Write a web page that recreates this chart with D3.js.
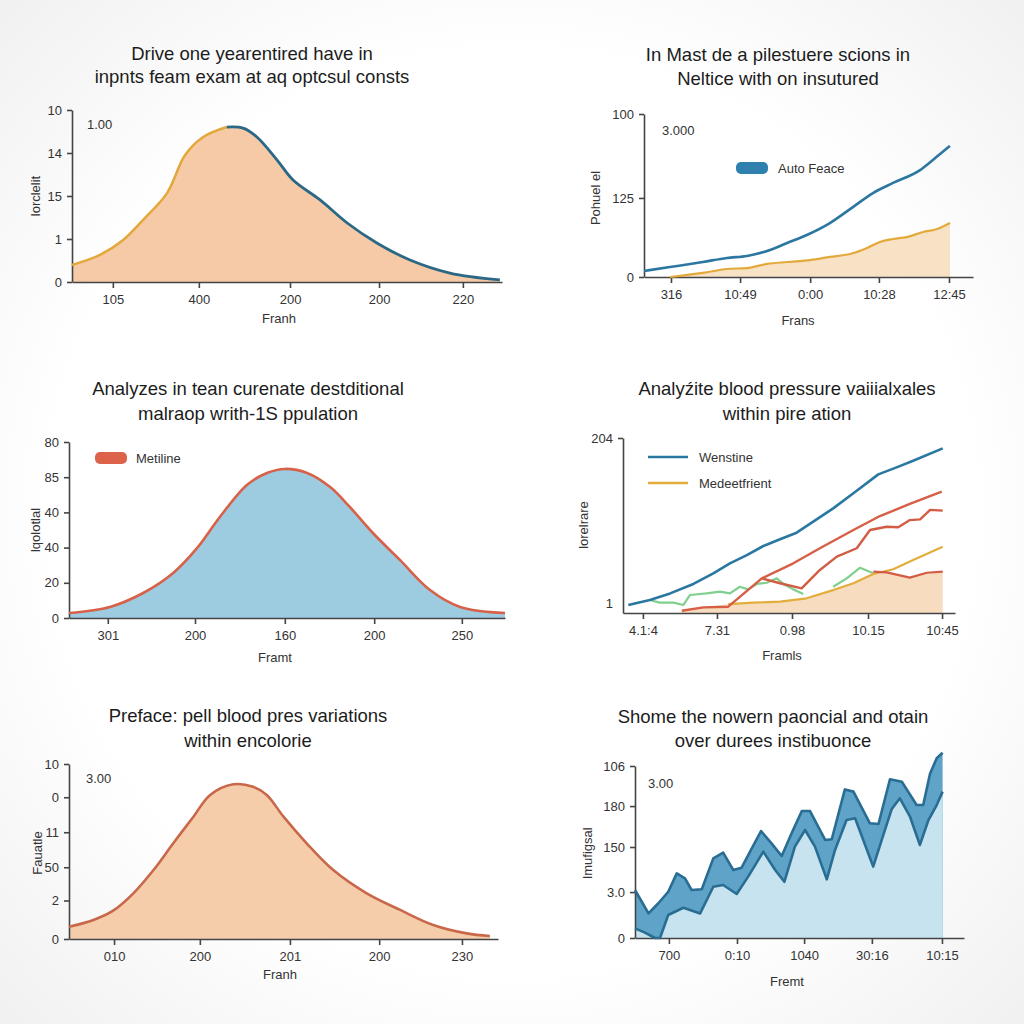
<!DOCTYPE html>
<html><head><meta charset="utf-8">
<script src="https://cdn.jsdelivr.net/npm/d3@7"></script>
<style>body{margin:0;background:#fff} svg{display:block;font-family:"Liberation Sans",Arial,sans-serif}</style>
</head><body><svg id="c" width="1024" height="1024"></svg>
<script>
// ---------- DATA ----------
// Panel 1
const p1Title = ["Drive one yearentired have in", "inpnts feam exam at aq optcsul consts"];
const p1XTicks = [9.5, 29.5, 50.7, 71.4, 90.9];
const p1XLabels = ["105", "400", "200", "200", "220"];
const p1YTicks = [0, 25, 50, 75, 100];
const p1YLabels = ["0", "1", "15", "14", "10"];
const p1X = [0, 6.5, 11.9, 16.5, 22.1, 26.3, 30.5, 36, 39.8, 43, 47.7, 51.4, 57.7, 64, 70.9, 78.6, 87.9, 99.5];
const p1Y = [9.9, 15.7, 24.4, 36, 51.7, 73.8, 84.3, 90.1, 89.5, 84.3, 70.9, 59.3, 47.7, 34.3, 22.7, 12.8, 5.2, 1.2];
const p1Split = 7;

// Panel 2
const p2Title = ["In Mast de a pilestuere scions in", "Neltice with on insutured"];
const p2XTicks = [8.2, 29.2, 50.5, 71.4, 92.7];
const p2XLabels = ["316", "10:49", "0:00", "10:28", "12:45"];
const p2YTicks = [0, 48.5, 100];
const p2YLabels = ["0", "125", "100"];
const p2BlueX = [0, 7.9, 17.9, 25.2, 31.3, 38.3, 43.5, 49.5, 56.5, 63.5, 69.6, 75.7, 83.9, 87.8, 93];
const p2BlueY = [3.7, 6.1, 9.2, 11.7, 12.9, 16.6, 20.9, 25.8, 33.1, 42.9, 51.5, 57.7, 65.6, 71.8, 80.4];
const p2GoldX = [7.9, 17.9, 25.2, 31.3, 37.4, 43.5, 50.5, 56.5, 62.6, 67.8, 71.7, 75.7, 79.9, 84.8, 89.1, 93];
const p2GoldY = [0, 2.5, 4.9, 5.5, 8, 9.2, 10.4, 12.3, 14.1, 17.8, 21.5, 23.3, 24.5, 27.6, 29.4, 33.1];

// Panel 3
const p3Title = ["Analyzes in tean curenate destditional", "malraop writh-1S ppulation"];
const p3XTicks = [8.9, 28.9, 49.5, 70, 90.1];
const p3XLabels = ["301", "200", "160", "200", "250"];
const p3YTicks = [0, 20, 40, 60, 80, 100];
const p3YLabels = ["0", "20", "40", "40", "85", "80"];
const p3X = [0, 9.4, 17, 23.9, 29.4, 34.6, 40.8, 45.4, 49.5, 54.6, 59.9, 64.4, 69.7, 75.9, 82.8, 89.7, 100];
const p3Y = [2.8, 6.3, 14.2, 25.6, 39.8, 57.4, 75.6, 82.4, 84.7, 82.4, 74.4, 63.1, 48.3, 33, 15.9, 6.3, 2.8];

// Panel 4
const p4Title = ["Analyźite blood pressure vaiiialxales", "within pire ation"];
const p4XTicks = [6, 28.3, 50.9, 73.8, 96.1];
const p4XLabels = ["4.1:4", "7.31", "0.98", "10.15", "10:45"];
const p4YTicks = [5.7, 100];
const p4YLabels = ["1", "204"];
const p4BlueX = [1.6, 8.1, 14.2, 21.2, 27.2, 32.2, 37.3, 42.3, 47.3, 52.3, 57.3, 63.3, 69.4, 76.9, 82.4, 87.4, 96.3];
const p4BlueY = [4.6, 7.4, 11.2, 16.6, 22.7, 28.4, 33.1, 38.3, 42.1, 45.9, 52.2, 59.8, 68.4, 79.2, 83.2, 87, 94.1];
const p4RedAX = [17.7, 24.2, 31.7, 41.8, 51.3, 59.3, 69.4, 77.4, 86.4, 96];
const p4RedAY = [1.3, 3.2, 3.6, 19.8, 28.4, 37, 47.4, 55.4, 62.3, 69.3];
const p4RedBX = [41.8, 47.3, 53.8, 59.3, 64.4, 70.4, 74.4, 79.4, 82.9, 86.4, 89.5, 92.5, 96.3];
const p4RedBY = [19.8, 17, 14.1, 24.6, 32.2, 37, 47.4, 49.3, 49, 53.1, 53.5, 58.9, 58.5];
const p4RedCX = [75.4, 79.4, 86.4, 91.5, 96.3];
const p4RedCY = [23.6, 23.2, 20.2, 23, 23.6];
const p4GreenX = [8.1, 11.1, 15.2, 18.2, 20.2, 25.2, 29.2, 32.2, 35.2, 37.7, 40.3, 43.3, 46.3, 48.3, 51.3, 54.3, null, 63.3, 67.4, 71.4, 75.4];
const p4GreenY = [7.4, 5.9, 5.9, 4.6, 10.3, 11.2, 12.2, 11.2, 15, 13.5, 16.6, 17.3, 19.8, 16.6, 13.5, 10.9, null, 15, 19.8, 25.9, 22.7];
const p4GoldX = [31.7, 39.2, 47.3, 55.3, 63.3, 69.4, 75.4, 81.4, 87.4, 96.3];
const p4GoldY = [5.1, 5.9, 6.5, 8.4, 13.1, 17, 22.3, 25, 30.3, 37.9];
const p4FillX = [17.7, 24.2, 31.7, 39.2, 47.3, 55.3, 63.3, 69.4, 75.4, 79.4, 86.4, 91.5, 96.3];
const p4FillY = [1.3, 3.2, 5.1, 5.9, 6.5, 8.4, 13.1, 17, 22.3, 23.2, 20.2, 23, 23.6];
const p4Legend = ["Wenstine", "Medeetfrient"];

// Panel 5
const p5Title = ["Preface: pell blood pres variations", "within encolorie"];
const p5XTicks = [10.5, 30.5, 51.5, 72.3, 91.6];
const p5XLabels = ["010", "200", "201", "200", "230"];
const p5YTicks = [0, 22, 41, 61, 81, 100];
const p5YLabels = ["0", "2", "50", "11", "0", "10"];
const p5X = [0, 5.7, 10.3, 15, 19.7, 24.3, 29, 32.9, 38.3, 42.9, 46.1, 50, 55.4, 61.6, 69.4, 77.2, 84.9, 92.7, 98.1];
const p5Y = [7, 10.9, 16.2, 26.1, 39.4, 54.7, 69.9, 82.3, 88.4, 87, 82.3, 69.9, 54.7, 39.4, 26.1, 16.6, 8, 3.2, 1.7];

// Panel 6
const p6Title = ["Shome the nowern paoncial and otain", "over durees instibuonce"];
const p6XTicks = [10.3, 31, 51.4, 72, 93.3];
const p6XLabels = ["700", "0:10", "1040", "30:16", "10:15"];
const p6YTicks = [0, 26.7, 52.9, 76.7, 100];
const p6YLabels = ["0", "3.0", "150", "180", "106"];
const p6UpX = [0, 4.1, 7.1, 10.1, 12.7, 15.2, 17.2, 20.3, 23.8, 26.8, 29.9, 32.4, 35.5, 38.3, 41.5, 44.6, 47.6, 50.7, 53.2, 57.8, 59.8, 63.8, 66.4, 71.4, 74, 77.5, 81.1, 85.6, 87.6, 89.7, 91.7, 93.5];
const p6UpY = [27.9, 14.3, 20.2, 26.9, 37.6, 34.7, 27.9, 28.3, 46.3, 49.6, 39.5, 40.9, 52.1, 62.2, 55, 47.7, 60.9, 73.8, 73.8, 57, 57.4, 86.4, 85.1, 66.7, 66.3, 92.3, 90.9, 77.3, 77.3, 95.7, 104.5, 107.7];
const p6LowX = [0, 3, 6.1, 7.6, 10.1, 14.7, 19.8, 23.8, 26.8, 30.9, 34.4, 39, 42.6, 45.4, 48.6, 51.7, 54.7, 58.3, 60.8, 64.3, 66.9, 72.4, 75, 78, 80.5, 83.6, 86.6, 89.2, 91.7, 93.5];
const p6LowY = [5.6, 3.1, 0, 0, 13.4, 17.6, 14.3, 29.8, 30.8, 25.6, 35.7, 50.2, 39.5, 32.7, 53.1, 62.8, 53.1, 34.1, 51.2, 68.6, 69.6, 41.5, 57, 74.8, 81.2, 70.5, 54.1, 68.6, 77.3, 85.1];

// ---------- DRAWING ----------
const svg = d3.select("#c");
const defs = svg.append("defs");
const rg = defs.append("radialGradient").attr("id", "bg").attr("cx", "50%").attr("cy", "50%").attr("r", "75%");
rg.append("stop").attr("offset", "60%").attr("stop-color", "#ffffff");
rg.append("stop").attr("offset", "100%").attr("stop-color", "#eeeeee");
svg.append("rect").attr("width", 1024).attr("height", 1024).attr("fill", "url(#bg)");

const zip = (xs, ys) => xs.map((v, i) => ({x: v, y: ys[i]}));
const smooth = d3.curveCatmullRom.alpha(0.5);

function panel(cfg) {
  const x = d3.scaleLinear().domain([0, 100]).range([cfg.l, cfg.r]);
  const y = d3.scaleLinear().domain([0, 100]).range([cfg.b, cfg.t]);
  const g = svg.append("g");
  cfg.title.forEach((t, i) => g.append("text")
    .attr("x", cfg.tx).attr("y", cfg.ty[i]).attr("text-anchor", "middle")
    .attr("dominant-baseline", "central").attr("font-size", 18.5).attr("fill", "#1c1c1c").text(t));
  const fills = g.append("g"), axes = g.append("g"), lines = g.append("g");
  const xa = axes.append("g").attr("transform", `translate(0,${cfg.b})`)
    .call(d3.axisBottom(x).tickValues(cfg.xTicks).tickFormat((d, i) => cfg.xLabels[i])
      .tickSize(6).tickPadding(7).tickSizeOuter(0));
  const ya = axes.append("g").attr("transform", `translate(${cfg.l},0)`)
    .call(d3.axisLeft(y).tickValues(cfg.yTicks).tickFormat((d, i) => cfg.yLabels[i])
      .tickSize(5).tickPadding(5).tickSizeOuter(0));
  [xa, ya].forEach(a => {
    a.selectAll("path,line").attr("stroke", "#444").attr("stroke-width", 1.6);
    a.selectAll("text").attr("font-size", 13).attr("fill", "#333").attr("font-family", "Liberation Sans, Arial, sans-serif");
  });
  g.append("text").attr("x", cfg.xl[0]).attr("y", cfg.xl[1]).attr("text-anchor", "middle")
    .attr("dominant-baseline", "central").attr("font-size", 13).attr("fill", "#333").text(cfg.xLabel);
  g.append("text").attr("transform", `translate(${cfg.yl[0]},${cfg.yl[1]}) rotate(-90)`).attr("text-anchor", "middle")
    .attr("dominant-baseline", "central").attr("font-size", 13).attr("fill", "#333").text(cfg.yLabel);
  if (cfg.note) g.append("text").attr("x", cfg.note[0]).attr("y", cfg.note[1])
    .attr("dominant-baseline", "central").attr("font-size", 13).attr("fill", "#333").text(cfg.note[2]);
  return {g, x, y, fills, lines, ya, xa};
}

// Panel 1
{
  const P = panel({l: 72, r: 502, t: 110, b: 282, tx: 252, ty: [53, 76], title: p1Title,
    xTicks: p1XTicks, xLabels: p1XLabels, yTicks: p1YTicks, yLabels: p1YLabels,
    xLabel: "Franh", xl: [279, 318], yLabel: "lorclelit", yl: [35, 196], note: [87, 124, "1.00"]});
  const d = zip(p1X, p1Y);
  P.fills.append("path").datum(d).attr("fill", "#f6caa6")
    .attr("d", d3.area().x(p => P.x(p.x)).y0(P.y(0)).y1(p => P.y(p.y)).curve(smooth));
  const ln = d3.line().x(p => P.x(p.x)).y(p => P.y(p.y)).curve(smooth);
  P.lines.append("path").datum(d.slice(0, p1Split + 1)).attr("fill", "none").attr("stroke", "#e2a83c").attr("stroke-width", 2.5).attr("d", ln);
  P.lines.append("path").datum(d.slice(p1Split)).attr("fill", "none").attr("stroke", "#2a6886").attr("stroke-width", 2.8).attr("d", ln);
}

// Panel 2
{
  const P = panel({l: 644, r: 973, t: 114, b: 277, tx: 778, ty: [54, 78], title: p2Title,
    xTicks: p2XTicks, xLabels: p2XLabels, yTicks: p2YTicks, yLabels: p2YLabels,
    xLabel: "Frans", xl: [798, 320], yLabel: "Pohuel el", yl: [595, 198], note: [662, 130, "3.000"]});
  const gd = zip(p2GoldX, p2GoldY), bd = zip(p2BlueX, p2BlueY);
  P.fills.append("path").datum(gd).attr("fill", "#f8e2c6")
    .attr("d", d3.area().x(p => P.x(p.x)).y0(P.y(0)).y1(p => P.y(p.y)).curve(d3.curveMonotoneX));
  const ln = d3.line().x(p => P.x(p.x)).y(p => P.y(p.y)).curve(d3.curveMonotoneX);
  P.lines.append("path").datum(gd).attr("fill", "none").attr("stroke", "#e3a93a").attr("stroke-width", 2.2).attr("d", ln);
  P.lines.append("path").datum(bd).attr("fill", "none").attr("stroke", "#2b77a1").attr("stroke-width", 2.6).attr("d", ln);
  P.g.append("rect").attr("x", 736).attr("y", 162).attr("width", 32).attr("height", 12).attr("rx", 5).attr("fill", "#2f80ad");
  P.g.append("text").attr("x", 778).attr("y", 168).attr("dominant-baseline", "central").attr("font-size", 13).attr("fill", "#333").text("Auto Feace");
}

// Panel 3
{
  const P = panel({l: 69, r: 505, t: 442, b: 618, tx: 248, ty: [388, 413], title: p3Title,
    xTicks: p3XTicks, xLabels: p3XLabels, yTicks: p3YTicks, yLabels: p3YLabels,
    xLabel: "Framt", xl: [275, 657], yLabel: "lqolotlal", yl: [35, 530]});
  const d = zip(p3X, p3Y);
  P.fills.append("path").datum(d).attr("fill", "#9dcce0")
    .attr("d", d3.area().x(p => P.x(p.x)).y0(P.y(0)).y1(p => P.y(p.y)).curve(smooth));
  P.lines.append("path").datum(d).attr("fill", "none").attr("stroke", "#d8614a").attr("stroke-width", 2.6)
    .attr("d", d3.line().x(p => P.x(p.x)).y(p => P.y(p.y)).curve(smooth));
  P.g.append("rect").attr("x", 95).attr("y", 452).attr("width", 32).attr("height", 12).attr("rx", 5).attr("fill", "#dc6349");
  P.g.append("text").attr("x", 136).attr("y", 458).attr("dominant-baseline", "central").attr("font-size", 13).attr("fill", "#333").text("Metiline");
}

// Panel 4
{
  const P = panel({l: 623, r: 955, t: 438, b: 613, tx: 787, ty: [388, 413], title: p4Title,
    xTicks: p4XTicks, xLabels: p4XLabels, yTicks: p4YTicks, yLabels: p4YLabels,
    xLabel: "Framls", xl: [782, 655], yLabel: "lorelrare", yl: [583, 525]});
  P.ya.selectAll(".tick").filter((d, i) => i === 0).select("line").remove();
  P.fills.append("path").datum(zip(p4FillX, p4FillY)).attr("fill", "#f8dcc0")
    .attr("d", d3.area().x(p => P.x(p.x)).y0(P.y(0)).y1(p => P.y(p.y)));
  const ln = d3.line().defined(p => p.x !== null).x(p => P.x(p.x)).y(p => P.y(p.y));
  const add = (xs, ys, c, w) => P.lines.append("path").datum(zip(xs, ys)).attr("fill", "none")
    .attr("stroke", c).attr("stroke-width", w).attr("stroke-linejoin", "round").attr("d", ln);
  add(p4GreenX, p4GreenY, "#7fd08e", 2.2);
  add(p4GoldX, p4GoldY, "#e3ad3c", 2.2);
  add(p4RedCX, p4RedCY, "#d25c44", 2.2);
  add(p4RedBX, p4RedBY, "#d25c44", 2.4);
  add(p4RedAX, p4RedAY, "#d65f45", 2.4);
  add(p4BlueX, p4BlueY, "#2a77a2", 2.6);
  const lx = [648, 688], lyy = [457, 483], lc = ["#2a77a2", "#e3ad3c"];
  p4Legend.forEach((t, i) => {
    P.g.append("line").attr("x1", lx[0]).attr("x2", lx[1]).attr("y1", lyy[i]).attr("y2", lyy[i]).attr("stroke", lc[i]).attr("stroke-width", 2.6);
    P.g.append("text").attr("x", 699).attr("y", lyy[i]).attr("dominant-baseline", "central").attr("font-size", 13).attr("fill", "#333").text(t);
  });
}

// Panel 5
{
  const P = panel({l: 69, r: 498, t: 764, b: 939, tx: 248, ty: [715, 740], title: p5Title,
    xTicks: p5XTicks, xLabels: p5XLabels, yTicks: p5YTicks, yLabels: p5YLabels,
    xLabel: "Franh", xl: [280, 974], yLabel: "Fauatle", yl: [37, 853], note: [86, 778, "3.00"]});
  const d = zip(p5X, p5Y);
  P.fills.append("path").datum(d).attr("fill", "#f6cdaa")
    .attr("d", d3.area().x(p => P.x(p.x)).y0(P.y(0)).y1(p => P.y(p.y)).curve(smooth));
  P.lines.append("path").datum(d).attr("fill", "none").attr("stroke", "#c9674b").attr("stroke-width", 2.6)
    .attr("d", d3.line().x(p => P.x(p.x)).y(p => P.y(p.y)).curve(smooth));
}

// Panel 6
{
  const P = panel({l: 635, r: 964, t: 766, b: 938, tx: 773, ty: [716, 740], title: p6Title,
    xTicks: p6XTicks, xLabels: p6XLabels, yTicks: p6YTicks, yLabels: p6YLabels,
    xLabel: "Fremt", xl: [787, 981], yLabel: "lmufigsal", yl: [587, 853], note: [648, 783, "3.00"]});
  const up = zip(p6UpX, p6UpY), lo = zip(p6LowX, p6LowY);
  const ar = d3.area().x(p => P.x(p.x)).y0(P.y(0)).y1(p => P.y(p.y));
  const ln = d3.line().x(p => P.x(p.x)).y(p => P.y(p.y));
  P.fills.append("path").datum(up).attr("fill", "#5fa3c9").attr("d", ar);
  P.fills.append("path").datum(lo).attr("fill", "#c7e3ef").attr("d", ar);
  P.lines.append("path").datum(up).attr("fill", "none").attr("stroke", "#2a6d93").attr("stroke-width", 2.6).attr("stroke-linejoin", "round").attr("d", ln);
  P.lines.append("path").datum(lo).attr("fill", "none").attr("stroke", "#2a6d93").attr("stroke-width", 2.6).attr("stroke-linejoin", "round").attr("d", ln);
}
</script></body></html>
